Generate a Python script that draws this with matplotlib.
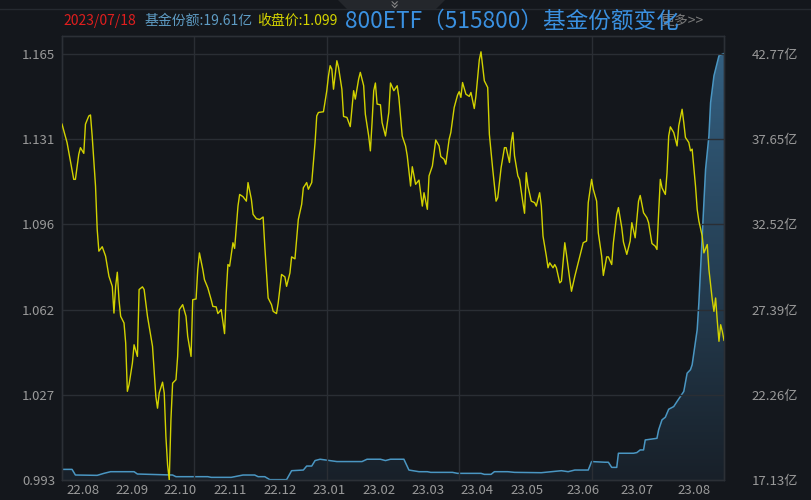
import numpy as np
import matplotlib.pyplot as plt
from matplotlib.colors import LinearSegmentedColormap
from matplotlib.patches import Polygon

plt.rcParams['font.family'] = ['Noto Sans CJK SC', 'DejaVu Sans']

# day offsets from the first point of the chart, and closing price
price_day = [0, 3, 7, 8, 10, 11, 13, 14, 16, 17, 18, 20, 21, 22, 24, 26, 28, 30, 31, 32,
             33, 34, 35, 37, 38, 39, 40, 42, 43, 45, 46, 48, 49, 51, 53, 54, 56, 57, 58, 60,
             61, 62, 63, 64, 65, 66, 68, 69, 70, 72, 74, 75, 77, 78, 80, 81, 82, 84, 85, 87,
             89, 90, 92, 93, 95, 97, 98, 99, 100, 102, 103, 105, 106, 108, 110, 111, 113, 114, 116, 118,
             120, 121, 123, 125, 126, 128, 129, 131, 133, 134, 136, 137, 139, 141, 143, 144, 146, 147, 149, 151,
             152, 153, 156, 158, 159, 160, 161, 162, 164, 165, 167, 168, 170, 172, 174, 175, 177, 178, 180, 181,
             183, 184, 185, 186, 187, 188, 190, 191, 193, 195, 196, 198, 200, 201, 203, 205, 206, 208, 209, 211,
             213, 215, 216, 218, 219, 221, 223, 225, 226, 228, 229, 231, 232, 234, 236, 237, 238, 239, 241, 243,
             244, 246, 247, 249, 250, 252, 254, 255, 257, 259, 260, 262, 264, 265, 267, 268, 269, 270, 272, 273,
             275, 276, 277, 278, 280, 282, 283, 285, 286, 287, 289, 290, 291, 293, 294, 295, 297, 298, 300, 301,
             303, 304, 306, 308, 309, 311, 313, 314, 316, 317, 319, 320, 322, 323, 325, 326, 328, 329, 331, 332,
             334, 335, 337, 339, 340, 342, 344, 345, 347, 349, 350, 352, 354, 355, 356, 357, 358, 360, 361, 362,
             363, 365, 367, 368, 370, 371, 372, 374, 375, 376, 378, 379, 380, 382, 383, 385, 386, 388, 389, 390,
             391, 392, 393, 394, 395]
price = [1.1367, 1.1293, 1.1144, 1.1144, 1.1245, 1.1272, 1.1249, 1.1367, 1.1400, 1.1404,
         1.1319, 1.1117, 1.0942, 1.0854, 1.0872, 1.0834, 1.0753, 1.0712, 1.0604, 1.0712,
         1.0769, 1.0658, 1.0591, 1.0564, 1.0483, 1.0288, 1.0315, 1.0402, 1.0476, 1.0429,
         1.0699, 1.0710, 1.0699, 1.0591, 1.0510, 1.0470, 1.0267, 1.0220, 1.0281, 1.0325,
         1.0281, 1.0105, 0.9991, 0.9930, 1.0173, 1.0321, 1.0335, 1.0429, 1.0618, 1.0638,
         1.0591, 1.0510, 1.0429, 1.0658, 1.0661, 1.0780, 1.0847, 1.0780, 1.0739, 1.0706,
         1.0658, 1.0631, 1.0629, 1.0602, 1.0618, 1.0521, 1.0685, 1.0800, 1.0793, 1.0888,
         1.0865, 1.1036, 1.1083, 1.1074, 1.1056, 1.1131, 1.1063, 1.1003, 1.0985, 1.0982,
         1.0992, 1.0874, 1.0665, 1.0638, 1.0611, 1.0602, 1.0645, 1.0760, 1.0750, 1.0712,
         1.0766, 1.0831, 1.0823, 1.0982, 1.1043, 1.1110, 1.1131, 1.1104, 1.1131, 1.1293,
         1.1400, 1.1414, 1.1417, 1.1502, 1.1562, 1.1603, 1.1589, 1.1508, 1.1623, 1.1596,
         1.1508, 1.1398, 1.1394, 1.1357, 1.1502, 1.1468, 1.1549, 1.1576, 1.1522, 1.1407,
         1.1319, 1.1259, 1.1373, 1.1502, 1.1533, 1.1448, 1.1445, 1.1373, 1.1319, 1.1414,
         1.1533, 1.1502, 1.1522, 1.1475, 1.1319, 1.1279, 1.1239, 1.1117, 1.1195, 1.1124,
         1.1141, 1.1036, 1.1090, 1.1023, 1.1158, 1.1198, 1.1303, 1.1279, 1.1236, 1.1225,
         1.1205, 1.1306, 1.1333, 1.1434, 1.1484, 1.1498, 1.1475, 1.1535, 1.1488, 1.1479,
         1.1495, 1.1430, 1.1481, 1.1627, 1.1659, 1.1542, 1.1515, 1.1326, 1.1185, 1.1056,
         1.1070, 1.1191, 1.1272, 1.1272, 1.1212, 1.1293, 1.1333, 1.1239, 1.1158, 1.1144,
         1.1050, 1.1007, 1.1171, 1.1117, 1.1056, 1.1050, 1.1036, 1.1090, 1.1036, 1.0915,
         1.0834, 1.0787, 1.0807, 1.0787, 1.0800, 1.0787, 1.0726, 1.0733, 1.0888, 1.0841,
         1.0739, 1.0692, 1.0753, 1.0807, 1.0834, 1.0888, 1.0895, 1.1050, 1.1144, 1.1104,
         1.1056, 1.0928, 1.0834, 1.0756, 1.0831, 1.0831, 1.0800, 1.0888, 1.1003, 1.1030,
         1.0949, 1.0891, 1.0841, 1.0895, 1.0969, 1.0908, 1.1056, 1.1079, 1.1009, 1.0989,
         1.0969, 1.0885, 1.0874, 1.0861, 1.1009, 1.1144, 1.1110, 1.1083, 1.1171, 1.1319,
         1.1356, 1.1333, 1.1279, 1.1360, 1.1427, 1.1373, 1.1313, 1.1293, 1.1259, 1.1266,
         1.1117, 1.1023, 1.0976, 1.0915, 1.0847, 1.0881, 1.0780, 1.0658, 1.0611, 1.0665,
         1.0571, 1.0490, 1.0557, 1.0530, 1.0494]

# fund shares (亿份)
share_day = [0, 6, 8, 21, 25, 29, 43, 45, 66, 68, 87, 89, 101, 103, 108, 115, 117, 121, 124, 134,
             137, 144, 146, 149, 151, 154, 164, 179, 182, 190, 193, 196, 204, 207, 213, 218, 220, 233, 236, 250,
             252, 256, 258, 266, 270, 286, 292, 298, 302, 306, 314, 316, 324, 326, 328, 331, 332, 341, 343, 345,
             347, 348, 355, 356, 358, 360, 362, 365, 367, 369, 371, 373, 375, 376, 377, 379, 380, 381, 382, 383,
             384, 386, 387, 389, 392, 395]
share = [17.77, 17.77, 17.43, 17.41, 17.53, 17.63, 17.63, 17.49, 17.43, 17.33,
         17.33, 17.29, 17.29, 17.33, 17.43, 17.43, 17.33, 17.33, 17.15, 17.15,
         17.69, 17.73, 17.97, 17.97, 18.30, 18.38, 18.24, 18.24, 18.38, 18.38,
         18.30, 18.38, 18.38, 17.73, 17.63, 17.63, 17.59, 17.59, 17.53, 17.53,
         17.47, 17.47, 17.63, 17.63, 17.59, 17.57, 17.63, 17.69, 17.63, 17.73,
         17.73, 18.24, 18.20, 18.20, 17.89, 17.89, 18.74, 18.74, 18.78, 18.94,
         18.94, 19.54, 19.64, 20.15, 20.75, 20.91, 21.39, 21.55, 21.86, 22.16,
         22.46, 23.56, 23.77, 24.07, 24.77, 26.18, 27.79, 29.80, 31.81, 33.82,
         35.83, 37.84, 39.85, 41.46, 42.67, 42.80]

month_labels = ['22.08', '22.09', '22.10', '22.11', '22.12', '23.01', '23.02',
                '23.03', '23.04', '23.05', '23.06', '23.07', '23.08']
month_day = [12.5, 41.8, 70.4, 100.2, 130.1, 159.3, 189.2, 218.4, 247.6, 277.5,
             310.9, 343.1, 377.1]
price_labels = ['0.993', '1.027', '1.062', '1.096', '1.131', '1.165']
share_labels = ['17.13亿', '22.26亿', '27.39亿', '32.52亿', '37.65亿', '42.77亿']

bg = '#14171c'
grid_c = '#2a2e34'
txt_c = '#9a9a9a'

fig = plt.figure(figsize=(8.12, 5.0), dpi=100, facecolor=bg)
ax = fig.add_axes([62 / 812, 20 / 500, 662 / 812, 444 / 500])
ax2 = ax.twinx()
ax.set_zorder(ax2.get_zorder() + 1)
ax.patch.set_visible(False)
ax2.set_facecolor(bg)

x0, x1 = 0, 395
p_lo, p_hi = 0.993, 1.165
p_top = p_hi + (p_hi - p_lo) / 5 * 18 / 85
s_lo, s_hi = 17.13, 42.77
s_top = s_hi + (s_hi - s_lo) / 5 * 18 / 85

# share line with gradient fill
ax2.plot(share_day, share, color='#4a96c2', lw=1.1, zorder=3)
poly = Polygon(list(zip(share_day, share)) + [(share_day[-1], s_lo), (share_day[0], s_lo)],
               closed=True, facecolor='none', edgecolor='none')
ax2.add_patch(poly)
cmap = LinearSegmentedColormap.from_list('fill', ['#182029', '#335f80'])
grad = np.linspace(0, 1, 256).reshape(-1, 1)
im = ax2.imshow(grad, cmap=cmap, aspect='auto', origin='lower',
                extent=[x0, x1, s_lo, s_hi], zorder=2)
im.set_clip_path(poly)
ax2.set_ylim(s_lo, s_top)

# price line
ax.plot(price_day, price, color='#d2d200', lw=1.0, zorder=4)
ax.set_xlim(x0, x1)
ax.set_ylim(p_lo, p_top)

ax.set_yticks(np.linspace(p_lo, p_hi, 6))
ax.set_yticklabels(price_labels)
ax2.set_yticks(np.linspace(s_lo, s_hi, 6))
ax2.set_yticklabels(share_labels)
ax.set_xticks(month_day)
ax.set_xticklabels(month_labels)

ax.grid(False)
for y in np.linspace(p_lo, p_hi, 6)[1:]:
    ax.axhline(y, color=grid_c, lw=1, zorder=1)
for xv in np.linspace(x0, x1, 6)[1:-1]:
    ax.axvline(xv, color=grid_c, lw=1, zorder=1)

ax.tick_params(axis='y', length=0, pad=5, labelsize=9.5, labelcolor=txt_c)
ax.tick_params(axis='x', length=0, pad=3, labelsize=9.5, labelcolor=txt_c)
ax2.tick_params(axis='y', length=0, pad=20, labelsize=9.5, labelcolor=txt_c)
for a in (ax, ax2):
    for sp in a.spines.values():
        sp.set_color('#2c3036')
        sp.set_linewidth(1)

# top decoration
fig.add_artist(plt.Line2D([0, 1], [1 - 9 / 500, 1 - 9 / 500], color='#262a30', lw=1))
tab = Polygon([(338 / 812, 1), (348 / 812, 1 - 10 / 500), (435 / 812, 1 - 10 / 500), (445 / 812, 1)],
              closed=True, facecolor='#24272c', edgecolor='none', transform=fig.transFigure)
fig.add_artist(tab)
fig.text(392 / 812, 1 - 5 / 500, '»', rotation=-90, color='#8a8a8a', fontsize=11,
         ha='center', va='center', family='DejaVu Sans')

# header
hy = 1 - 21 / 500
fig.text(63 / 812, hy, '2023/07/18', color='#e01e1e', fontsize=10, va='center')
fig.text(145 / 812, hy, '基金份额:19.61亿', color='#5e9cc4', fontsize=10, va='center')
fig.text(257 / 812, hy, '收盘价:1.099', color='#d4d400', fontsize=10, va='center')
fig.text(660 / 812, hy, '更多>>', color='#7a7a7a', fontsize=10, va='center')
fig.text(345 / 812, hy, '800ETF（515800）基金份额变化', color='#3a90e0', fontsize=16.3, va='center')

fig.savefig('out.png', dpi=100, facecolor=bg)
